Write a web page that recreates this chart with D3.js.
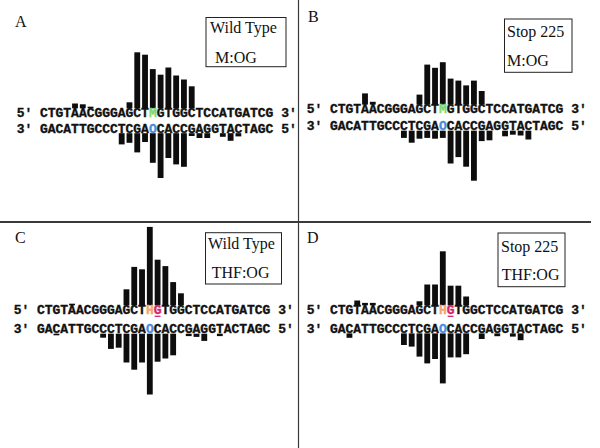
<!DOCTYPE html>
<html><head><meta charset="utf-8">
<script src="https://cdn.jsdelivr.net/npm/d3@7"></script>
<style>body{margin:0;background:#fff}</style>
</head><body><svg id="c" width="600" height="448"></svg>
<script>
// ---- data ----
const topStrandMOG = "CTGTAACGGGAGCTMGTGGCTCCATGATCG".split("");
const topStrandTHF = "CTGTAACGGGAGCTHGTGGCTCCATGATCG".split("");
const bottomStrand = "GACATTGCCCTCGAOCACCGAGGTACTAGC".split("");
const positions = d3.range(30);

const panelLetters = ["A", "B", "C", "D"];
const legendLine1 = ["Wild Type", "Stop 225", "Wild Type", "Stop 225"];
const legendLine2 = ["M:OG", "M:OG", "THF:OG", "THF:OG"];

// relative cleavage intensities per nucleotide (top strand: above; bottom strand: below)
const aTop = [0,0,0,0,6,5,2,0,0,0,0,7.5,70,67,49,42,51,41,36,27.5,0,0,0,0,0,0,0,0,0,0];
const aBot = [0,0,0,0,0,0,0,0,0,0,14,12,24,11,37,56,31,39,42,3.5,6,6,0,4.5,9.5,4,0,0,0,0];
const bTop = [0,0,0,0,14,3.5,0,0,0,0,0,12.5,50,46,53,32.5,30,24,30,17,0,0,0,0,0,0,0,0,0,0];
const bBot = [0,0,0,0,0,0,0,0,0,9,15,10,9,10,9,41,33,45,62.5,13,12,0,7,5,6,11,0,0,0,0];
const cTop = [0,0,0,0,2,0,0,0,0,0,0,20,48,45,98,57,49,29,15,0,0,0,0,0,0,0,0,0,0,0];
const cBot = [0,0,2,0,0,0,0,0,5,19,17.5,36,45,36,76,35,31,27,0,3,4,9,0,3,0,0,0,0,0,0];
const dTop = [0,0,0,6,3,3,0,0,0,0,0,5,26,26,67.5,24.5,24.5,11,0,0,0,0,0,0,0,0,0,0,0,0];
const dBot = [0,0,5.5,0,0,0,0,0,0,14.5,16.5,29,37.5,32,62.5,30,30,26,0,7,0,3.5,0,4,8.5,0,0,0,0,0];

// ---- layout ----
const CHAR = 7.78;
const layout = [
  {seqX:40,  topY:117,   botY:132.5, lab:[15,27],  box:[206,17.5,80,49.2],  l1:[210,33.3], l2:[215,62.7]},
  {seqX:330, topY:113.3, botY:130,   lab:[308,22], box:[504.5,19,67.5,53.3], l1:[507,36.7], l2:[507,65.7]},
  {seqX:37,  topY:314,   botY:333,   lab:[15,243], box:[205.5,232.7,76,51.3], l1:[208,249.3], l2:[211.7,278.3]},
  {seqX:330, topY:314,   botY:332.7, lab:[307,243],box:[498,233,67,53.7],   l1:[501,251.7], l2:[501.7,280]}
];
const tops = [aTop, bTop, cTop, dTop];
const bots = [aBot, bBot, cBot, dBot];
const strands = [topStrandMOG, topStrandMOG, topStrandTHF, topStrandTHF];

const svg = d3.select("#c");
const h = d3.scaleLinear().domain([0, 100]).range([0, 80]);

// dividers
svg.append("line").attr("x1", 0).attr("x2", 591).attr("y1", 222).attr("y2", 222)
  .attr("stroke", "#3a3a3a").attr("stroke-width", 2);
svg.append("line").attr("x1", 298.5).attr("x2", 298.5).attr("y1", 0).attr("y2", 448)
  .attr("stroke", "#3a3a3a").attr("stroke-width", 1.2);

const mono = "'Liberation Mono','Courier New',monospace";
const serif = "'Liberation Serif','Times New Roman',serif";

const colorTop = c => c === "M" ? "#7fd86a" : c === "H" ? "#f5a56e" : "#111";

layout.forEach((L, p) => {
  const g = svg.append("g");
  const x = d3.scaleBand().domain(positions).range([L.seqX, L.seqX + 30 * CHAR])
    .paddingInner(0.25).paddingOuter(0.125);
  const cx = i => x(i) + x.bandwidth() / 2;
  const topBase = L.topY - 8.7;
  const botBase = L.botY + 0.7;

  // bars above top strand
  g.selectAll(".bt").data(positions.filter(i => tops[p][i] > 0)).join("rect")
    .attr("x", i => x(i)).attr("width", x.bandwidth())
    .attr("y", i => topBase - h(tops[p][i])).attr("height", i => h(tops[p][i]))
    .attr("fill", "#0d0d0d");
  // bars below bottom strand
  g.selectAll(".bb").data(positions.filter(i => bots[p][i] > 0)).join("rect")
    .attr("x", i => x(i)).attr("width", x.bandwidth())
    .attr("y", botBase).attr("height", i => h(bots[p][i]))
    .attr("fill", "#0d0d0d");

  const letter = sel => sel.attr("text-anchor", "middle")
    .attr("font-family", mono).attr("font-weight", "bold").attr("font-size", 13)
    .attr("stroke-width", 0.35);

  // strand letters
  const isRedG = i => strands[p][i] === "G" && strands[p][i - 1] === "H";
  g.selectAll(".tt").data(positions).join("text")
    .attr("x", cx).attr("y", L.topY).call(letter)
    .attr("fill", i => isRedG(i) ? "#d3266b" : colorTop(strands[p][i]))
    .attr("stroke", i => isRedG(i) ? "#d3266b" : colorTop(strands[p][i]))
    .text(i => strands[p][i]);
  g.selectAll(".tb").data(positions).join("text")
    .attr("x", cx).attr("y", L.botY).call(letter)
    .attr("fill", i => bottomStrand[i] === "O" ? "#4a8be0" : "#111")
    .attr("stroke", i => bottomStrand[i] === "O" ? "#4a8be0" : "#111")
    .text(i => bottomStrand[i]);
  // underline of G next to H
  positions.filter(isRedG).forEach(i => {
    g.append("line").attr("x1", x(i)).attr("x2", x(i) + x.bandwidth())
      .attr("y1", L.topY + 2.3).attr("y2", L.topY + 2.3)
      .attr("stroke", "#d3266b").attr("stroke-width", 1.3);
  });

  // end labels
  const endTxt = (t, xx, yy) => g.append("text").attr("x", xx).attr("y", yy)
    .call(letter).attr("fill", "#111").attr("stroke", "#111").text(t);
  endTxt("5\u2032", cx(0) - 2.5 * CHAR, L.topY);
  endTxt("3\u2032", cx(29) + 2.5 * CHAR, L.topY);
  endTxt("3\u2032", cx(0) - 2.5 * CHAR, L.botY);
  endTxt("5\u2032", cx(29) + 2.5 * CHAR, L.botY);

  // panel letter
  g.append("text").attr("x", L.lab[0]).attr("y", L.lab[1]).attr("font-family", serif)
    .attr("font-size", 16).attr("fill", "#111").text(panelLetters[p]);

  // legend box
  g.append("rect").attr("x", L.box[0]).attr("y", L.box[1]).attr("width", L.box[2]).attr("height", L.box[3])
    .attr("fill", "none").attr("stroke", "#222").attr("stroke-width", 1);
  g.append("text").attr("x", L.l1[0]).attr("y", L.l1[1]).attr("font-family", serif)
    .attr("font-size", 16).attr("fill", "#111").text(legendLine1[p]);
  g.append("text").attr("x", L.l2[0]).attr("y", L.l2[1]).attr("font-family", serif)
    .attr("font-size", 16).attr("fill", "#111").text(legendLine2[p]);
});
</script></body></html>
